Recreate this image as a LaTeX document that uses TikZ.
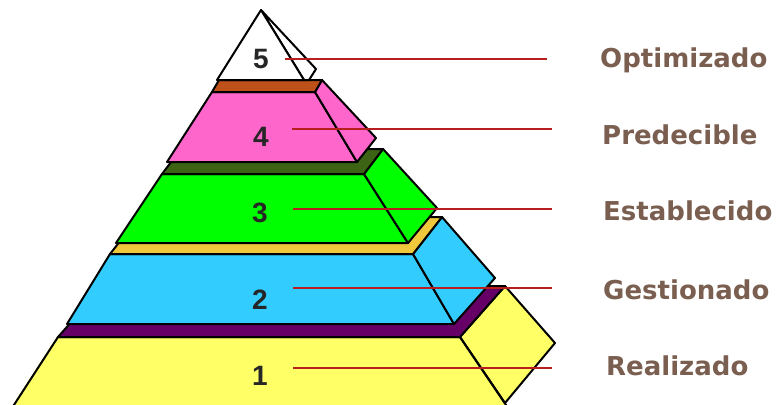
\documentclass[tikz,border=0pt]{standalone}
\usepackage{fontspec}
\setmainfont{Liberation Sans}
\newfontfamily\levelfont{DejaVu Sans}
\definecolor{lvlyellow}{RGB}{255,255,102}
\definecolor{lvlpurple}{RGB}{102,0,102}
\definecolor{lvlblue}{RGB}{51,204,255}
\definecolor{lvlgold}{RGB}{240,200,60}
\definecolor{lvlgreen}{RGB}{0,255,0}
\definecolor{lvldkgreen}{RGB}{60,100,20}
\definecolor{lvlpink}{RGB}{255,102,204}
\definecolor{lvlbrown}{RGB}{190,80,25}
\definecolor{leadred}{RGB}{185,30,30}
\definecolor{labelbrown}{RGB}{122,94,80}

\begin{document}
\begin{tikzpicture}[x=1pt, y=-1pt,
  face/.style={draw=black, line width=2pt, line join=round},
  num/.style={inner sep=0pt, font=\bfseries\fontsize{28}{32}\selectfont, text=black!85},
  lvl/.style={anchor=base west, inner sep=0pt, text=labelbrown,
    font=\levelfont\bfseries\fontsize{26}{30}\selectfont},
  leader/.style={leadred, line width=2.2pt}]
  \useasboundingbox (0,0) rectangle (778,404);
  \clip (0,0) rectangle (778,404);
  % level 1 (yellow)
  \fill[face, lvlyellow] (58,337) -- (460,337) -- (508,408) -- (12,408) -- cycle;
  \draw[face, fill=lvlyellow] (460,337) -- (505,286) -- (555,343) -- (505,403) -- cycle;
  \draw[face, fill=lvlpurple] (58,337) -- (460,337) -- (505,286) -- (103,286) -- cycle;
  \draw[face] (12,408) -- (58,337) -- (460,337) -- (508,408);
  % level 2 (blue)
  \draw[face, fill=lvlblue] (110,254) -- (413,254) -- (454,324) -- (67,324) -- cycle;
  \draw[face, fill=lvlblue] (413,254) -- (442,217) -- (495,278) -- (454,324) -- cycle;
  \draw[face, fill=lvlgold] (110,254) -- (413,254) -- (442,217) -- (139,217) -- cycle;
  % level 3 (green)
  \draw[face, fill=lvlgreen] (162,174) -- (364,174) -- (408,243) -- (116,243) -- cycle;
  \draw[face, fill=lvlgreen] (364,174) -- (383,149) -- (437,208) -- (408,243) -- cycle;
  \draw[face, fill=lvldkgreen] (162,174) -- (364,174) -- (383,149) -- (181,149) -- cycle;
  % level 4 (pink)
  \draw[face, fill=lvlpink] (212,92) -- (315,92) -- (357,162) -- (167,162) -- cycle;
  \draw[face, fill=lvlpink] (315,92) -- (322,80) -- (376,138) -- (357,162) -- cycle;
  \draw[face, fill=lvlbrown] (212,92) -- (315,92) -- (322,80) -- (219,80) -- cycle;
  % level 5 (white tip)
  \draw[face, fill=white] (261,10) -- (316,69) -- (309,80) -- (304,80) -- cycle;
  \draw[face, fill=white] (261,10) -- (304,80) -- (217,80) -- cycle;
  % level numbers
  \node[num] (n5) at (261,59) {5};
  \node[num] (n4) at (261,137) {4};
  \node[num] (n3) at (260,213) {3};
  \node[num] (n2) at (260,300) {2};
  \node[num] (n1) at (260,376) {1};
  % level names
  \node[lvl] (l5) at (600,67) {Optimizado};
  \node[lvl] (l4) at (602,144) {Predecible};
  \node[lvl] (l3) at (603,220) {Establecido};
  \node[lvl] (l2) at (603,299) {Gestionado};
  \node[lvl] (l1) at (606,375) {Realizado};
  % leader lines
  \coordinate (s5) at (285,59);  \coordinate (e5) at (547,59);
  \coordinate (s4) at (292,129); \coordinate (e4) at (552,129);
  \coordinate (s3) at (293,209); \coordinate (e3) at (552,209);
  \coordinate (s2) at (293,288); \coordinate (e2) at (552,288);
  \coordinate (s1) at (293,368); \coordinate (e1) at (552,368);
  \draw[leader] (s5) -- (e5);
  \draw[leader] (s4) -- (e4);
  \draw[leader] (s3) -- (e3);
  \draw[leader] (s2) -- (e2);
  \draw[leader] (s1) -- (e1);
\end{tikzpicture}
\end{document}
